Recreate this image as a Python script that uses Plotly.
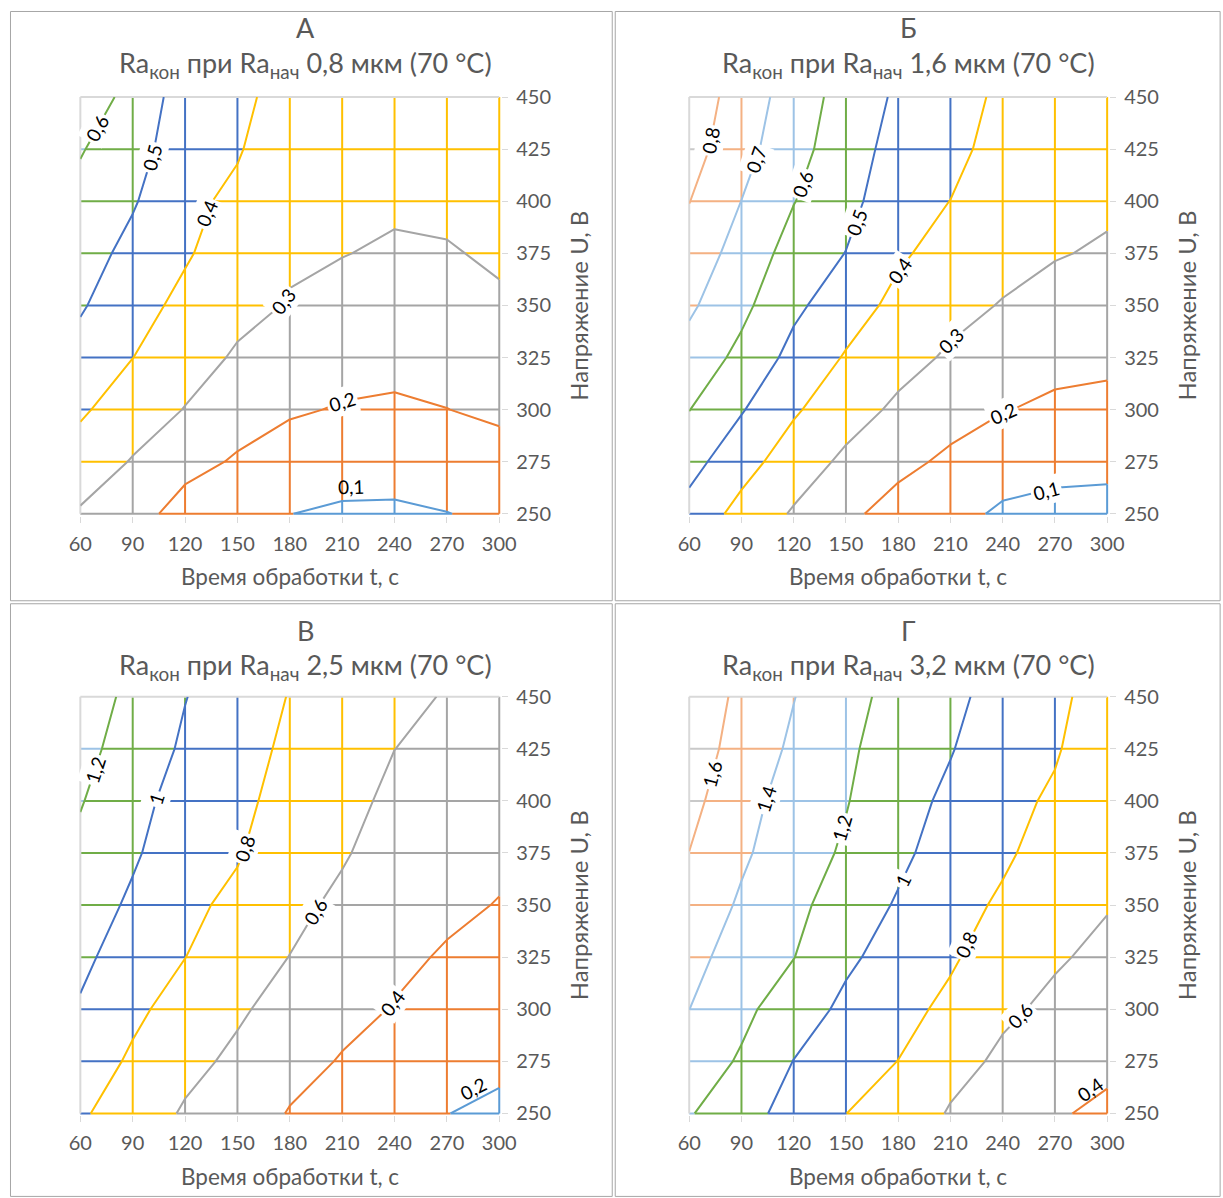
import math
import numpy as np
import plotly.graph_objects as go

# target picture geometry (pixels of the 1223x1198 screenshot) and the
# measured page-to-screenshot mapping: shot = S * figure_px + B
SX, SY = 0.980, 0.984
BX, BY = 9.65, 10.9
FW = int(math.ceil((1223 - BX) / SX))
FH = int(math.ceil((1198 - BY) / SY))
FONT = "Lato"
TXT = "#595959"

T_VALUES = [60, 90, 120, 150, 180, 210, 240, 270, 300]
U_VALUES = [250, 275, 300, 325, 350, 375, 400, 425, 450]

# Ra_кон values; each inner list is one column t = 60..300, values for U = 250..450
RA_08_COLS = [
    [0.290, 0.354, 0.414, 0.465, 0.510, 0.542, 0.574, 0.606, 0.638],
    [0.240, 0.294, 0.347, 0.401, 0.436, 0.472, 0.509, 0.545, 0.580],
    [0.160, 0.231, 0.297, 0.336, 0.376, 0.410, 0.422, 0.435, 0.445],
    [0.130, 0.190, 0.240, 0.290, 0.323, 0.351, 0.380, 0.408, 0.430],
    [0.101, 0.157, 0.210, 0.253, 0.295, 0.310, 0.325, 0.338, 0.350],
    [0.087, 0.140, 0.194, 0.231, 0.267, 0.303, 0.320, 0.335, 0.350],
    [0.086, 0.137, 0.188, 0.224, 0.256, 0.287, 0.315, 0.330, 0.345],
    [0.098, 0.150, 0.199, 0.230, 0.262, 0.292, 0.322, 0.335, 0.350],
    [0.118, 0.166, 0.216, 0.250, 0.285, 0.315, 0.330, 0.340, 0.350],
]
RA_16_COLS = [
    [0.466, 0.534, 0.602, 0.662, 0.716, 0.759, 0.802, 0.840, 0.860],
    [0.368, 0.4375, 0.507, 0.575, 0.624, 0.661, 0.699, 0.735, 0.755],
    [0.290, 0.351, 0.412, 0.470, 0.520, 0.562, 0.603, 0.635, 0.655],
    [0.220, 0.281, 0.340, 0.392, 0.445, 0.498, 0.530, 0.545, 0.560],
    [0.164, 0.224, 0.283, 0.332, 0.374, 0.414, 0.440, 0.465, 0.485],
    [0.131, 0.183, 0.235, 0.288, 0.327, 0.363, 0.399, 0.430, 0.455],
    [0.085, 0.145, 0.204, 0.249, 0.295, 0.330, 0.345, 0.360, 0.375],
    [0.072, 0.128, 0.183, 0.227, 0.266, 0.306, 0.330, 0.350, 0.370],
    [0.070, 0.123, 0.176, 0.219, 0.254, 0.289, 0.315, 0.335, 0.355],
]
RA_25_COLS = [
    [0.823, 0.902, 0.981, 1.043, 1.099, 1.156, 1.212, 1.270, 1.330],
    [0.707, 0.773, 0.838, 0.903, 0.969, 1.025, 1.060, 1.100, 1.140],
    [0.579, 0.653, 0.726, 0.802, 0.845, 0.885, 0.925, 0.975, 1.005],
    [0.497, 0.562, 0.626, 0.690, 0.754, 0.817, 0.860, 0.885, 0.905],
    [0.390, 0.458, 0.528, 0.597, 0.650, 0.673, 0.710, 0.758, 0.792],
    [0.331, 0.389, 0.446, 0.503, 0.561, 0.618, 0.660, 0.700, 0.740],
    [0.310, 0.350, 0.392, 0.433, 0.475, 0.517, 0.558, 0.601, 0.640],
    [0.202, 0.265, 0.325, 0.385, 0.430, 0.470, 0.510, 0.550, 0.590],
    [0.173, 0.228, 0.283, 0.339, 0.394, 0.430, 0.470, 0.510, 0.550],
]
RA_32_COLS = [
    [1.210, 1.305, 1.401, 1.466, 1.532, 1.598, 1.660, 1.720, 1.780],
    [1.114, 1.179, 1.244, 1.309, 1.374, 1.430, 1.460, 1.510, 1.540],
    [0.890, 0.996, 1.100, 1.204, 1.250, 1.290, 1.330, 1.370, 1.405],
    [0.801, 0.879, 0.957, 1.035, 1.105, 1.175, 1.210, 1.235, 1.270],
    [0.736, 0.798, 0.859, 0.920, 0.982, 1.040, 1.070, 1.100, 1.130],
    [0.582, 0.670, 0.758, 0.824, 0.870, 0.917, 0.963, 1.010, 1.050],
    [0.494, 0.564, 0.633, 0.703, 0.772, 0.830, 0.860, 0.890, 0.920],
    [0.415, 0.487, 0.560, 0.620, 0.675, 0.720, 0.770, 0.820, 0.860],
    [0.370, 0.433, 0.495, 0.558, 0.610, 0.630, 0.650, 0.665, 0.680],
]

LEVELS_08 = [0.1, 0.2, 0.3, 0.4, 0.5, 0.6]
LEVELS_16 = [0.1, 0.2, 0.3, 0.4, 0.5, 0.6, 0.7, 0.8]
LEVELS_25 = [0.2, 0.4, 0.6, 0.8, 1.0, 1.2]
LEVELS_32 = [0.4, 0.6, 0.8, 1.0, 1.2, 1.4, 1.6]

PALETTE = ["#5B9BD5", "#ED7D31", "#A5A5A5", "#FFC000", "#4472C4",
           "#70AD47", "#9DC3E6", "#F4B183", "#C9C9C9"]

PANELS = [
    dict(letter="А", ra="0,8", cols=RA_08_COLS, step=0.1, levels=LEVELS_08,
         box=(80, 499, 97, 514), frame=(8, 612, 5, 601), tx=305, ty=(27, 64),
         labels=[(0.6, "u", 435, 0), (0.5, "u", 421, 0), (0.4, "u", 394, 0),
                 (0.3, "u", 352, 0), (0.2, "t", 210, 0), (0.1, "t", 215, 14)]),
    dict(letter="Б", ra="1,6", cols=RA_16_COLS, step=0.1, levels=LEVELS_16,
         box=(689, 1107, 97, 514), frame=(615, 1220, 5, 601), tx=908, ty=(27, 64),
         labels=[(0.8, "u", 429, 0), (0.7, "u", 420, 0), (0.6, "u", 408, 0),
                 (0.5, "u", 390, 0), (0.4, "u", 367, 0), (0.3, "u", 333, 0),
                 (0.2, "t", 240, 0), (0.1, "t", 265, 0)]),
    dict(letter="В", ra="2,5", cols=RA_25_COLS, step=0.2, levels=LEVELS_25,
         box=(80, 499, 697, 1114), frame=(8, 612, 604, 1197), tx=305, ty=(631, 667),
         labels=[(1.2, "u", 415, 0), (1.0, "u", 401, 0), (0.8, "u", 377, 0),
                 (0.6, "u", 347, 0), (0.4, "u", 303, 0), (0.2, "t", 285, 14)]),
    dict(letter="Г", ra="3,2", cols=RA_32_COLS, step=0.2, levels=LEVELS_32,
         box=(689, 1107, 697, 1114), frame=(615, 1220, 604, 1197), tx=908, ty=(631, 667),
         labels=[(1.6, "u", 413, 0), (1.4, "u", 401, 0), (1.2, "u", 387, 0),
                 (1.0, "u", 362, 0), (0.8, "u", 331, 0), (0.6, "u", 297, 0),
                 (0.4, "t", 290, 12)]),
]

T = np.array(T_VALUES, float)
U = np.array(U_VALUES, float)


def fx(x):   # screenshot pixel -> figure pixel
    return min(max((x - BX) / SX, 0.5), FW - 0.5)


def fy(y):
    return min(max((y - BY) / SY, 0.5), FH - 0.5)


def px(x):   # screenshot pixel -> paper fraction
    return fx(x) / FW


def py(y):
    return 1 - fy(y) / FH


def split_segment(p0, p1, v0, v1, step):
    cuts = [0.0, 1.0]
    if v1 != v0:
        lo, hi = sorted((v0, v1))
        k = math.floor(lo / step + 1e-9) + 1
        while k * step < hi - 1e-12:
            cuts.append((k * step - v0) / (v1 - v0))
            k += 1
    cuts.sort()
    out = []
    for a, b in zip(cuts[:-1], cuts[1:]):
        if b - a < 1e-9:
            continue
        vm = v0 + (a + b) / 2 * (v1 - v0)
        band = max(0, min(len(PALETTE) - 1, int(math.floor(vm / step + 1e-9))))
        xa = p0[0] + a * (p1[0] - p0[0]); ya = p0[1] + a * (p1[1] - p0[1])
        xb = p0[0] + b * (p1[0] - p0[0]); yb = p0[1] + b * (p1[1] - p0[1])
        out.append((band, xa, ya, xb, yb))
    return out


def row_at(Z, u):
    return np.array([np.interp(u, U, Z[:, i]) for i in range(Z.shape[1])])


def col_at(Z, t):
    return np.array([np.interp(t, T, Z[j, :]) for j in range(Z.shape[0])])


def crossing(vals, coords, L):
    for i in range(len(vals) - 1):
        a, b = vals[i], vals[i + 1]
        if a != b and (a - L) * (b - L) <= 0:
            return coords[i] + (L - a) / (b - a) * (coords[i + 1] - coords[i])
    return None


def label_point(Z, L, mode, c):
    if mode == "u":
        return crossing(row_at(Z, c), T, L), c
    return c, crossing(col_at(Z, c), U, L)


def paper_text(x, y, text, size, angle=0):
    return dict(x=px(x), y=py(y), xref="paper", yref="paper", text=text,
                showarrow=False, xanchor="center", yanchor="middle", textangle=angle,
                font=dict(family=FONT, size=size, color=TXT))


fig = go.Figure()
shapes, annotations = [], []
layout_axes = {}

for n, P in enumerate(PANELS):
    sfx = "" if n == 0 else str(n + 1)
    xa, ya = "x" + sfx, "y" + sfx
    Z = np.array(P["cols"], float).T  # rows = U, cols = T
    step = P["step"]
    x0, x1, y0, y1 = P["box"]
    pad = 2
    dx = 240.0 / (x1 - x0)
    dy = 200.0 / (y1 - y0)
    pxx = (x1 - x0) / 240.0
    pxy = (y1 - y0) / 200.0

    layout_axes["xaxis" + sfx] = dict(
        domain=[px(x0 - pad), px(x1 + pad)], range=[60 - pad * dx, 300 + pad * dx],
        anchor=ya, tickvals=T_VALUES, ticktext=[str(v) for v in T_VALUES],
        ticks="outside", ticklen=6, tickcolor="#D9D9D9", tickwidth=1,
        showgrid=False, zeroline=False, showline=False, fixedrange=True,
        tickfont=dict(family=FONT, size=20, color=TXT), ticklabelstandoff=4)
    layout_axes["yaxis" + sfx] = dict(
        domain=[py(y1 + pad), py(y0 - pad)], range=[250 - pad * dy, 450 + pad * dy],
        anchor=xa, side="right", tickvals=U_VALUES, ticktext=[str(v) for v in U_VALUES],
        ticks="outside", ticklen=6, tickcolor="#D9D9D9", tickwidth=1,
        showgrid=False, zeroline=False, showline=False, fixedrange=True,
        tickfont=dict(family=FONT, size=20, color=TXT), ticklabelstandoff=4)

    # coloured wireframe grid
    paths = {}
    nU, nT = Z.shape
    for j in range(nU - 1):  # horizontal lines (top edge is border)
        for i in range(nT - 1):
            for band, a, b, c, d in split_segment((T[i], U[j]), (T[i + 1], U[j]), Z[j, i], Z[j, i + 1], step):
                paths.setdefault(band, []).append(f"M{a:.3f},{b:.3f}L{c:.3f},{d:.3f}")
    for i in range(1, nT):  # vertical lines (left edge is border)
        for j in range(nU - 1):
            for band, a, b, c, d in split_segment((T[i], U[j]), (T[i], U[j + 1]), Z[j, i], Z[j + 1, i], step):
                paths.setdefault(band, []).append(f"M{a:.3f},{b:.3f}L{c:.3f},{d:.3f}")
    for band, segs in paths.items():
        shapes.append(dict(type="path", path="".join(segs), xref=xa, yref=ya,
                           line=dict(color=PALETTE[band], width=2), layer="below"))
    shapes.append(dict(type="line", x0=T[0], x1=T[-1], y0=U[-1], y1=U[-1], xref=xa, yref=ya,
                       line=dict(color="#D9D9D9", width=2), layer="below"))
    shapes.append(dict(type="line", x0=T[0], x1=T[0], y0=U[0], y1=U[-1], xref=xa, yref=ya,
                       line=dict(color="#D9D9D9", width=2), layer="below"))

    # contour lines
    for L in P["levels"]:
        k = int(round(L / step)) - 1
        fig.add_trace(go.Contour(
            x=T_VALUES, y=U_VALUES, z=Z.tolist(), xaxis=xa, yaxis=ya,
            autocontour=False,
            contours=dict(start=L, end=L, size=step, coloring="none", showlabels=False),
            line=dict(color=PALETTE[k], width=2, smoothing=0),
            showscale=False, hoverinfo="skip", showlegend=False))

    # contour labels
    for L, mode, c, shift in P["labels"]:
        pt = label_point(Z, L, mode, c)
        if pt[0] is None or pt[1] is None:
            continue
        if mode == "u":
            ta = crossing(row_at(Z, c - 4), T, L); tb = crossing(row_at(Z, c + 4), T, L)
            ddx, ddy = (tb - ta) * pxx, 8 * pxy
        else:
            ua = crossing(col_at(Z, c - 4), U, L); ub = crossing(col_at(Z, c + 4), U, L)
            ddx, ddy = 8 * pxx, (ub - ua) * pxy
        ang = -math.degrees(math.atan2(ddy, ddx))
        if ang < -90:
            ang += 180
        if ang > 90:
            ang -= 180
        txt = f"{L:g}".replace(".", ",")
        annotations.append(dict(x=pt[0], y=pt[1], xref=xa, yref=ya, text=txt, showarrow=False,
                                xanchor="center", yanchor="middle",
                                textangle=ang, yshift=shift,
                                bgcolor="white" if shift == 0 else "rgba(0,0,0,0)",
                                borderpad=2, font=dict(family=FONT, size=19, color="black")))

    # panel frame
    fx0, fx1, fy0, fy1 = P["frame"]
    shapes.append(dict(type="rect", xref="paper", yref="paper",
                       x0=px(fx0), x1=px(fx1), y0=py(fy1), y1=py(fy0),
                       line=dict(color="#A6A6A6", width=1), layer="above"))

    # titles
    annotations.append(paper_text(P["tx"], P["ty"][0], P["letter"], 27))
    annotations.append(paper_text(P["tx"], P["ty"][1],
                                  f"Ra<sub>кон</sub> при Ra<sub>нач</sub> {P['ra']} мкм (70 °C)", 27))
    # axis titles
    annotations.append(paper_text((x0 + x1) / 2, y1 + 63, "Время обработки t, с", 22.5))
    annotations.append(paper_text(x1 + 79, (y0 + y1) / 2, "Напряжение U, В", 24, -90))

fig.update_layout(
    width=FW, height=FH, margin=dict(l=0, r=0, t=0, b=0), autosize=False,
    paper_bgcolor="white", plot_bgcolor="white", showlegend=False,
    separators=", ", shapes=shapes, annotations=annotations,
    font=dict(family=FONT, color=TXT), **layout_axes)

fig.write_html("out.html")
